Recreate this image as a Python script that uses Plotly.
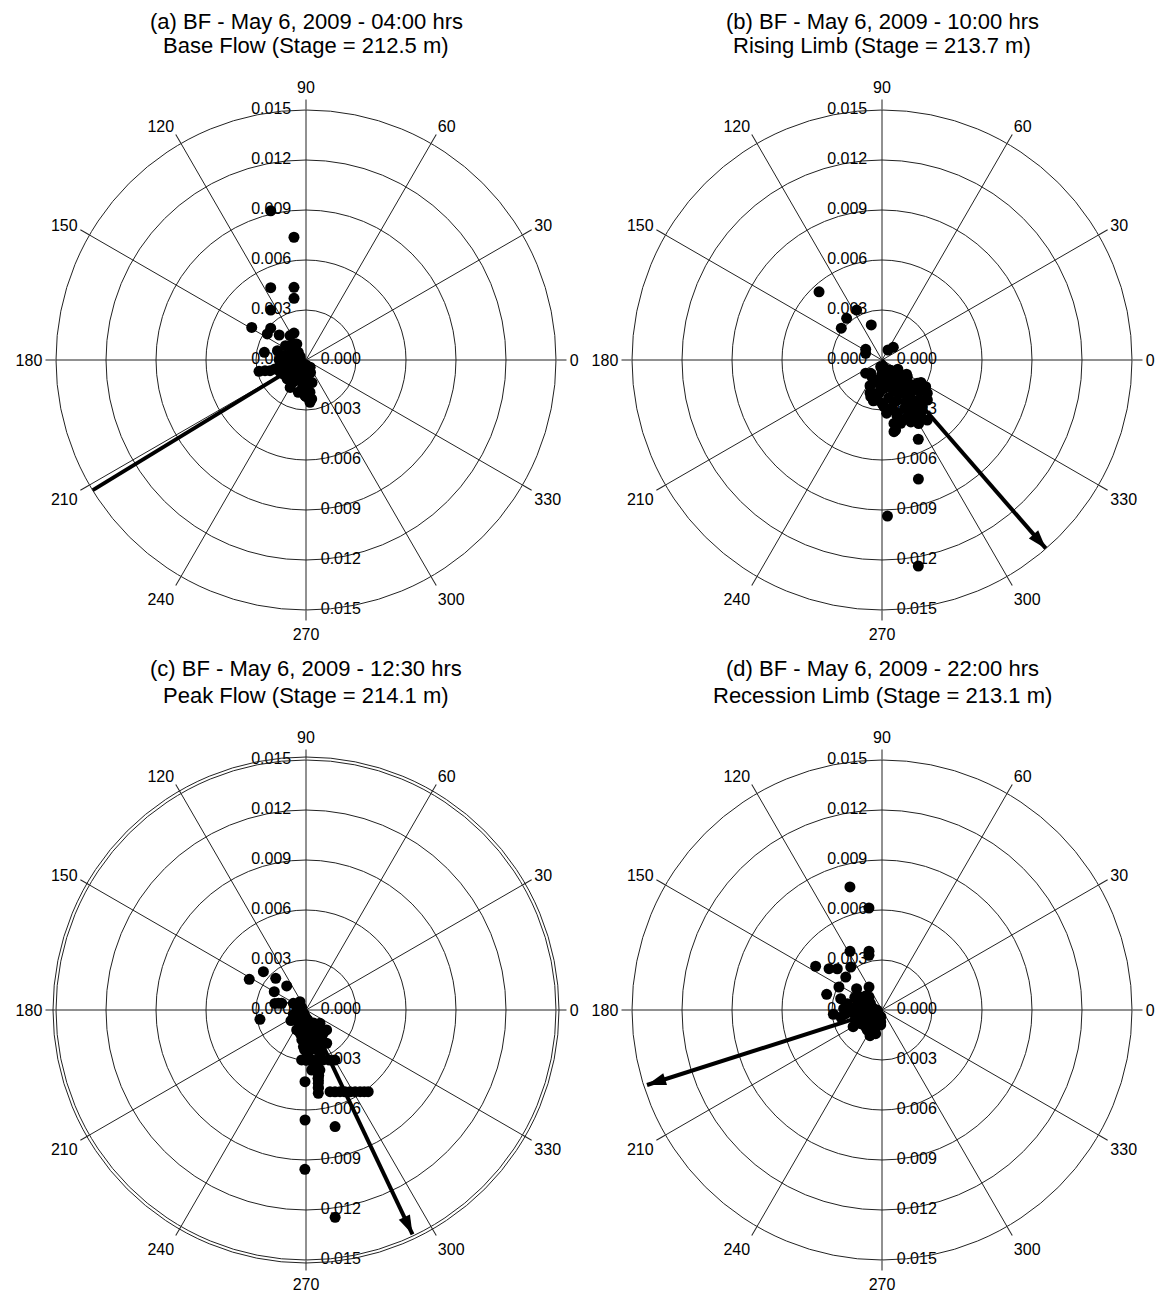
import plotly.graph_objects as go

# ---------------- data ----------------
TITLE_LINE1 = [
    "(a) BF - May 6, 2009 - 04:00 hrs",
    "(b) BF - May 6, 2009 - 10:00 hrs",
    "(c) BF - May 6, 2009 - 12:30 hrs",
    "(d) BF - May 6, 2009 - 22:00 hrs",
]
TITLE_LINE2 = [
    "Base Flow (Stage = 212.5 m)",
    "Rising Limb (Stage = 213.7 m)",
    "Peak Flow (Stage = 214.1 m)",
    "Recession Limb (Stage = 213.1 m)",
]

RADIAL_TICKS = [0.000, 0.003, 0.006, 0.009, 0.012, 0.015]
RADIAL_LABELS = ["0.000", "0.003", "0.006", "0.009", "0.012", "0.015"]
ANGLE_TICKS = [0, 30, 60, 90, 120, 150, 180, 210, 240, 270, 300, 330]
ANGLE_LABELS = ["0", "30", "60", "90", "120", "150", "180", "210", "240", "270", "300", "330"]

# panel (a) base flow
A_r = [0.0092, 0.0074, 0.00483, 0.00442, 0.00377, 0.00367, 0.0038, 0.00285, 0.0028, 0.0022,
       0.00177, 0.00254, 0.0018, 0.0029, 0.00225, 0.00255, 0.00194, 0.00154, 0.00129, 0.00117,
       0.00099, 0.0012, 0.0016, 0.0008, 0.00038, 0.00065, 0.00154, 0.00176, 0.00114, 0.0016,
       0.00175, 0.00116, 0.00254, 0.00194, 0.00171, 0.00149, 0.00065, 0.00096, 0.00088, 0.00199,
       0.00214, 0.00195, 0.00236, 0.00123, 0.00097, 0.00139, 0.0003, 0.00036,
       0.0004, 0.0004, 0.0004, 0.0007, 0.0007, 0.0007, 0.0007, 0.0010, 0.0010, 0.0010,
       0.0010, 0.0013, 0.0013, 0.0013, 0.0013, 0.0016, 0.0016, 0.0019, 0.0019, 0.0022,
       0.0014, 0.0008, 0.0005, 0.0011, 0.0015]
A_t = [103.3, 95.6, 116, 99.4, 101, 125.2, 149, 138, 146, 137,
       114, 169.5, 162, 193.5, 196.5, 275.4, 274, 268, 138, 187,
       228, 252, 192, 161, 245, 135, 240, 262, 272, 212,
       123, 124, 194.6, 196, 204, 219, 211, 176, 253, 256.6,
       268.4, 277, 278.3, 128.4, 151.7, 169, 270, 170,
       150, 200, 250, 140, 180, 230, 260, 150, 200, 240,
       265, 170, 200, 230, 255, 180, 225, 240, 265, 270,
       285, 290, 300, 120, 145]

# panel (b) rising limb
B_r = [0.00557, 0.00336, 0.00328, 0.0031, 0.0022, 0.00117, 0.00106, 0.00102, 0.0007, 0.00126,
       0.00523, 0.00747, 0.00937, 0.01255, 0.00436, 0.00041, 0.00068, 0.00122, 0.00182, 0.00254,
       0.00307, 0.00206, 0.00242, 0.0028, 0.00304, 0.00333, 0.00373, 0.00418, 0.00451, 0.00387,
       0.00396, 0.0034, 0.00334, 0.00363, 0.0024, 0.00185, 0.00149, 0.00121, 0.00295, 0.00395,
       0.00428, 0.00337, 0.0018, 0.0023, 0.00105, 0.00126, 0.00164, 0.00256, 0.0037,
       0.0005, 0.0008, 0.0008, 0.0011, 0.0011, 0.0014, 0.0014, 0.0014, 0.0017, 0.0017,
       0.0017, 0.0020, 0.0020, 0.0020, 0.0023, 0.0023, 0.0023, 0.0026, 0.0026, 0.0026,
       0.0029, 0.0029, 0.0029, 0.0032, 0.0032, 0.0032, 0.0035, 0.0035, 0.0038, 0.0038,
       0.0041, 0.0044, 0.0027, 0.0021, 0.0017, 0.0012, 0.0025]
B_t = [132.7, 116.9, 130.3, 142, 107, 146.7, 157.6, 48.3, 59, 219,
       294.6, 287, 272, 280, 279.5, 259, 298, 319, 326.6, 326.6,
       328.6, 256.5, 263.3, 272.5, 279.9, 286, 294, 300.5, 307, 280.7,
       286.5, 304.4, 314, 318.6, 303.5, 299.8, 290.5, 275.7, 305.6, 306,
       281, 323.7, 267.5, 253, 229.6, 252.5, 313, 315.3, 310.8,
       280, 270, 310, 300, 330, 260, 285, 315, 275, 305,
       330, 265, 290, 315, 280, 300, 320, 270, 290, 310,
       282, 300, 320, 275, 295, 310, 285, 300, 290, 302,
       295, 300, 330, 250, 245, 240, 258]

# panel (c) peak flow
C_r = [0.00387, 0.00344, 0.00263, 0.00185, 0.0022, 0.00282, 0.00191, 0.00151, 0.0043, 0.0066,
       0.00721, 0.00956, 0.01256, 0.00511, 0.00531, 0.00557, 0.00588, 0.00616, 0.00328, 0.00387,
       0.00446, 0.00505, 0.00301, 0.00302, 0.00317, 0.00347, 0.00059, 0.00054, 0.00101, 0.00083,
       0.00116, 0.00174, 0.00144, 0.0018, 0.00224, 0.00254, 0.00235, 0.00241, 0.00307, 0.00132,
       0.00086, 0.00062, 0.00128, 0.00172, 0.0022, 0.00172, 0.0037, 0.00362,
       0.0003, 0.0006, 0.0006, 0.0009, 0.0009, 0.0009, 0.0012, 0.0012, 0.0012, 0.0015,
       0.0015, 0.0015, 0.0018, 0.0018, 0.0018, 0.0021, 0.0021, 0.0021, 0.0024, 0.0024,
       0.0027, 0.0027, 0.0030, 0.0033, 0.0036, 0.0040, 0.0043, 0.0047, 0.0008, 0.0005,
       0.0011, 0.0003, 0.00521, 0.00544, 0.00572, 0.00602, 0.00357, 0.00416, 0.00475, 0.00301,
       0.00308, 0.00331, 0.0017]
C_t = [151.6, 138, 133.7, 128.8, 150, 191.5, 168, 164.6, 269.2, 269.5,
       284, 269.6, 278, 286.4, 292.6, 298.3, 303.5, 307.3, 283, 281,
       279.5, 278.4, 265, 276.5, 289, 300, 160, 228, 261, 286.7,
       316.5, 306.6, 255.6, 271.3, 281.3, 289.3, 301.9, 275.7, 282, 245,
       152, 126, 290, 292, 266, 316, 283, 275.4,
       240, 250, 280, 240, 270, 300, 260, 280, 305, 265,
       285, 300, 262, 280, 295, 270, 285, 298, 268, 282,
       272, 288, 270, 278, 280, 281, 280, 279, 200, 170,
       215, 150, 289.5, 295.5, 301, 305.5, 282, 280, 279, 270.5,
       283, 295, 166]

# panel (d) recession limb
D_r = [0.00763, 0.00617, 0.00401, 0.00361, 0.00337, 0.00477, 0.00403, 0.00365, 0.00319, 0.00294,
       0.00293, 0.00345, 0.00199, 0.00158, 0.00293, 0.00257, 0.00212, 0.00149, 0.00123, 0.0007,
       0.00028, 0.00169, 0.00116, 0.00092, 0.00113, 0.00147, 0.0015, 0.00152, 0.00219, 0.00072,
       0.0015, 0.0011,
       0.0003, 0.0005, 0.0005, 0.0008, 0.0008, 0.0008, 0.0011, 0.0011, 0.0011, 0.0011,
       0.0014, 0.0014, 0.0014, 0.0017, 0.0017, 0.0017, 0.0020, 0.0020, 0.0023, 0.0025,
       0.0013, 0.0018, 0.0004, 0.0009]
D_t = [104.6, 97.3, 118.6, 102.5, 103.4, 146.6, 142, 137.3, 126, 137.7,
       151.9, 164.2, 140, 119.5, 185, 164.7, 169.7, 173, 151.7, 165,
       184, 187.5, 201, 222, 244.8, 255, 234, 212.7, 185.8, 264,
       148.6, 135,
       200, 170, 230, 150, 190, 240, 160, 185, 210, 250,
       165, 195, 225, 175, 200, 245, 180, 210, 178, 190,
       140, 155, 260, 265]

POINTS_R = [A_r, B_r, C_r, D_r]
POINTS_T = [A_t, B_t, C_t, D_t]

# mean-direction arrows (magnitude, direction in degrees)
ARROW_R = [0.0151, 0.0150, 0.0149, 0.0148]
ARROW_T = [211.4, 311.0, 295.4, 197.7]

# ---------------- layout ----------------
OFF = 8  # page body margin
W, H = 1163 - OFF, 1294 - OFF
FONT = "Liberation Sans, Arial, sans-serif"
centers = [(306 - OFF, 360 - OFF), (882 - OFF, 360 - OFF),
           (306 - OFF, 1010 - OFF), (882 - OFF, 1010 - OFF)]
title_y1 = [21 - OFF, 21 - OFF, 669 - OFF, 669 - OFF]
title_y2 = [46 - OFF, 46 - OFF, 695 - OFF, 695 - OFF]
RAD_PX = 250

fig = go.Figure()
shapes = []

for i in range(4):
    pid = "polar" if i == 0 else f"polar{i+1}"
    sub = pid
    cx, cy = centers[i]
    x0, x1 = (cx - RAD_PX) / W, (cx + RAD_PX) / W
    y0, y1 = (H - cy - RAD_PX) / H, (H - cy + RAD_PX) / H
    fig.update_layout({
        pid: dict(
            domain=dict(x=[x0, x1], y=[y0, y1]),
            bgcolor="white",
            radialaxis=dict(
                range=[0, 0.015],
                tickvals=RADIAL_TICKS[1:],
                showticklabels=False,
                ticks="",
                showline=False,
                showgrid=True,
                gridcolor="#222",
                gridwidth=1,
                angle=90,
            ),
            angularaxis=dict(
                rotation=0,
                direction="counterclockwise",
                tickmode="array",
                tickvals=ANGLE_TICKS,
                ticktext=ANGLE_LABELS,
                ticks="outside",
                ticklen=10,
                tickcolor="#222",
                showline=True,
                linecolor="#222",
                linewidth=1,
                showgrid=True,
                gridcolor="#222",
                gridwidth=1,
                tickfont=dict(family=FONT, size=16, color="black"),
            ),
        )
    })

    # double outer ring in panel (c)
    if i == 2:
        rr = RAD_PX + 3
        shapes.append(dict(
            type="circle", xref="paper", yref="paper", layer="above",
            x0=(cx - rr) / W, x1=(cx + rr) / W,
            y0=(H - cy - rr) / H, y1=(H - cy + rr) / H,
            line=dict(color="#222", width=1), fillcolor="rgba(0,0,0,0)"))

    # radial tick labels: upward (left of axis) and downward (right of axis)
    fig.add_trace(go.Scatterpolar(
        r=RADIAL_TICKS, theta=[90] * len(RADIAL_TICKS), mode="markers+text",
        text=RADIAL_LABELS, textposition="middle left",
        marker=dict(size=22, opacity=0),
        textfont=dict(family=FONT, size=16, color="black"),
        cliponaxis=False, subplot=sub, showlegend=False, hoverinfo="skip"))
    fig.add_trace(go.Scatterpolar(
        r=RADIAL_TICKS, theta=[270] * len(RADIAL_TICKS), mode="markers+text",
        text=RADIAL_LABELS, textposition="middle right",
        marker=dict(size=22, opacity=0),
        textfont=dict(family=FONT, size=16, color="black"),
        cliponaxis=False, subplot=sub, showlegend=False, hoverinfo="skip"))

    # data points
    fig.add_trace(go.Scatterpolar(
        r=POINTS_R[i], theta=POINTS_T[i], mode="markers",
        marker=dict(size=11, color="black"),
        subplot=sub, showlegend=False, cliponaxis=False))

    # arrow
    fig.add_trace(go.Scatterpolar(
        r=[0, ARROW_R[i]], theta=[ARROW_T[i], ARROW_T[i]], mode="lines",
        line=dict(color="black", width=4),
        subplot=sub, showlegend=False, cliponaxis=False, hoverinfo="skip"))
    fig.add_trace(go.Scatterpolar(
        r=[ARROW_R[i]], theta=[ARROW_T[i]], mode="markers",
        marker=dict(symbol="arrow", size=20, color="black", angle=90 - ARROW_T[i],
                    line=dict(width=0)),
        subplot=sub, showlegend=False, cliponaxis=False, hoverinfo="skip"))

    # panel title (two lines)
    fig.add_annotation(
        x=cx / W, y=1 - title_y1[i] / H, xref="paper", yref="paper",
        xanchor="center", yanchor="middle", text=TITLE_LINE1[i], showarrow=False,
        font=dict(family=FONT, size=22, color="black"))
    fig.add_annotation(
        x=cx / W, y=1 - title_y2[i] / H, xref="paper", yref="paper",
        xanchor="center", yanchor="middle", text=TITLE_LINE2[i], showarrow=False,
        font=dict(family=FONT, size=22, color="black"))

fig.update_layout(
    width=W, height=H,
    margin=dict(l=0, r=0, t=0, b=0),
    paper_bgcolor="white",
    plot_bgcolor="white",
    showlegend=False,
    shapes=shapes,
)

fig.write_html("out.html")
